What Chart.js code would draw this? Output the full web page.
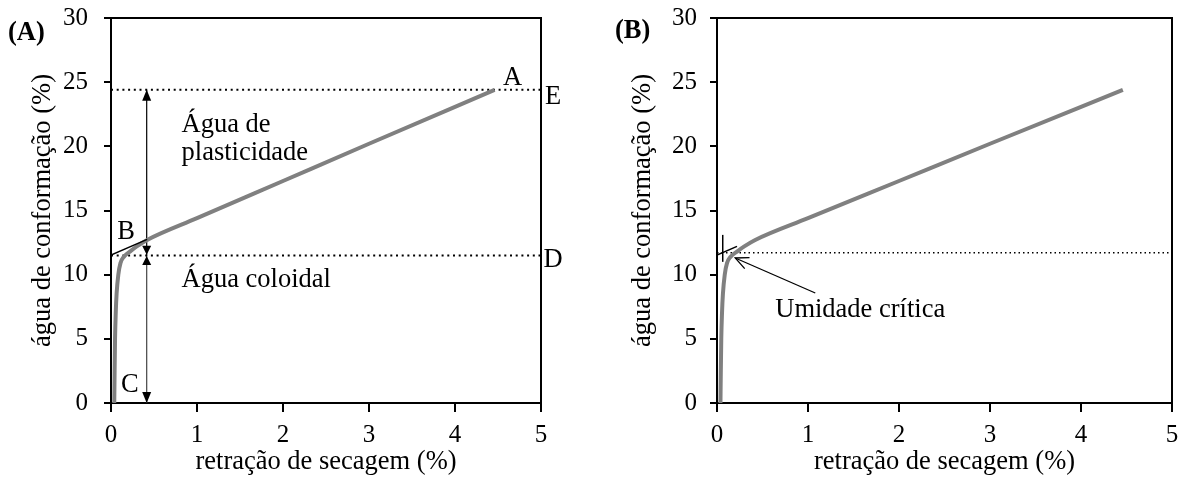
<!DOCTYPE html>
<html>
<head>
<meta charset="utf-8">
<script src="https://cdn.jsdelivr.net/npm/chart.js@4.4.1/dist/chart.umd.min.js"></script>
<style>
html,body{margin:0;padding:0;background:#fff;}
#wrap{position:relative;width:1182px;height:481px;overflow:hidden;}
canvas{position:absolute;top:0;}
</style>
</head>
<body>
<div id="wrap">
<canvas id="cA" width="591" height="481" style="left:0;width:591px;height:481px"></canvas>
<canvas id="cB" width="591" height="481" style="left:591px;width:591px;height:481px"></canvas>
</div>
<script>
// ---- data ----
const shrinkage = [0.038, 0.042, 0.047, 0.055, 0.065, 0.085, 0.11, 0.15, 0.22, 0.3, 0.42, 1.0, 2.0, 3.0, 4.46];
const water     = [0, 2.5, 5, 7, 8.5, 10, 10.9, 11.4, 11.8, 12.2, 12.7, 14.4, 17.3, 20.2, 24.4];
const xTicks = [0, 1, 2, 3, 4, 5];
const yTicks = [0, 5, 10, 15, 20, 25, 30];

// Panel A reference lines
const lineE = {x: [0, 5], y: [24.4, 24.4]};
const lineD = {x: [0, 5], y: [11.5, 11.5]};
const tangentA = {x: [0, 0.42], y: [11.53, 12.75]};
const arrowUpper = {x: [0.415, 0.415], y: [11.5, 24.4]};
const arrowLower = {x: [0.415, 0.415], y: [11.5, 0]};
const labelsA = [
  {t: "Água de", x: 0.82, y: 21.67, align: "left"},
  {t: "plasticidade", x: 0.82, y: 19.49, align: "left"},
  {t: "Água coloidal", x: 0.82, y: 9.59, align: "left"},
  {t: "A", x: 4.67, y: 25.33, align: "center"},
  {t: "E", x: 5.14, y: 23.85, align: "center"},
  {t: "D", x: 5.14, y: 11.15, align: "center"},
  {t: "B", x: 0.174, y: 13.33, align: "center"},
  {t: "C", x: 0.22, y: 1.4, align: "center"}
];

// Panel B reference lines
const lineCrit = {x: [0, 5], y: [11.7, 11.7]};
const tangentB = {x: [0, 0.22], y: [11.53, 12.2]};
const markB = {x: [0.063, 0.063], y: [11.0, 13.1]};
const arrowCrit = {x: [1.08, 0.2], y: [8.57, 11.3]};
const labelsB = [
  {t: "Umidade crítica", x: 0.64, y: 7.25, align: "left"}
];

const FONT = "'Liberation Serif', 'Times New Roman', serif";
const FS = 25;     // tick labels
const FT = 26.5;   // titles & annotations

function pts(o){ return o.x.map((v,i)=>({x:v, y:o.y[i]})); }
function curve(){ return shrinkage.map((v,i)=>({x:v, y:water[i]})); }

function lineDs(o, color, width, dash){
  return {data: pts(o), showLine: true, borderColor: color, borderWidth: width,
          borderDash: dash || [], pointRadius: 0, fill: false, tension: 0, order: 2};
}

const annotPlugin = {
  id: 'annot',
  afterDatasetsDraw(chart, args, opts){
    const ctx = chart.ctx, xs = chart.scales.x, ys = chart.scales.y, a = chart.chartArea;
    ctx.save();
    // frame (top & right edges)
    ctx.strokeStyle = '#000'; ctx.lineWidth = 2;
    ctx.beginPath();
    ctx.moveTo(a.left - 1, a.top); ctx.lineTo(a.right, a.top); ctx.lineTo(a.right, a.bottom);
    ctx.stroke();
    // arrowheads
    (opts.heads || []).forEach(h => {
      const x1 = xs.getPixelForValue(h.from[0]), y1 = ys.getPixelForValue(h.from[1]);
      const x2 = xs.getPixelForValue(h.to[0]), y2 = ys.getPixelForValue(h.to[1]);
      const ang = Math.atan2(y2 - y1, x2 - x1);
      const L = h.len, W = h.w;
      ctx.beginPath();
      ctx.moveTo(x2 - L*Math.cos(ang) + W*Math.sin(ang), y2 - L*Math.sin(ang) - W*Math.cos(ang));
      ctx.lineTo(x2, y2);
      ctx.lineTo(x2 - L*Math.cos(ang) - W*Math.sin(ang), y2 - L*Math.sin(ang) + W*Math.cos(ang));
      if (h.open){ ctx.strokeStyle = '#000'; ctx.lineWidth = 1.3; ctx.stroke(); }
      else { ctx.closePath(); ctx.fillStyle = '#000'; ctx.fill(); }
    });
    // labels
    ctx.fillStyle = '#000';
    ctx.font = FT + 'px ' + FONT;
    ctx.textBaseline = 'middle';
    (opts.labels || []).forEach(l => {
      ctx.textAlign = l.align;
      ctx.fillText(l.t, xs.getPixelForValue(l.x), ys.getPixelForValue(l.y));
    });
    // panel tag
    if (opts.tag){
      ctx.font = 'bold ' + FT + 'px ' + FONT;
      ctx.textAlign = 'left';
      ctx.fillText(opts.tag.t, opts.tag.px, opts.tag.py);
    }
    ctx.restore();
  }
};

function makeOptions(cfg){
  return {
    responsive: false,
    animation: false,
    layout: {padding: {left: 0, right: cfg.padRight, top: 18, bottom: 0}},
    plugins: {
      legend: {display: false},
      tooltip: {enabled: false},
      annot: {labels: cfg.labels, heads: cfg.heads, tag: cfg.tag}
    },
    scales: {
      x: {
        type: 'linear', min: 0, max: 5,
        afterBuildTicks: s => { s.ticks = xTicks.map(v => ({value: v})); },
        afterFit: s => { s.height = 78; s.paddingLeft = 0; s.paddingRight = 0; },
        border: {display: true, color: '#000', width: 2},
        grid: {drawOnChartArea: false, drawTicks: true, tickLength: 9, color: '#000', lineWidth: 2},
        ticks: {color: '#000', padding: 8, font: {family: FONT, size: FS}, maxRotation: 0},
        title: {display: true, text: 'retração de secagem (%)', color: '#000',
                font: {family: FONT, size: FT}, padding: {top: 0, bottom: 3}}
      },
      y: {
        type: 'linear', min: 0, max: 30,
        afterBuildTicks: s => { s.ticks = yTicks.map(v => ({value: v})); },
        afterFit: s => { s.width = cfg.yWidth; s.paddingTop = 0; s.paddingBottom = 0; },
        border: {display: true, color: '#000', width: 2},
        grid: {drawOnChartArea: false, drawTicks: true, tickLength: 7, color: '#000', lineWidth: 2},
        ticks: {color: '#000', padding: cfg.yPad, font: {family: FONT, size: FS}},
        title: {display: true, text: 'água de conformação (%)', color: '#000',
                font: {family: FONT, size: FT}, padding: {top: cfg.yTitlePad, bottom: 0}}
      }
    }
  };
}

const curveDs = () => ({data: curve(), showLine: true, borderColor: '#808080', borderWidth: 4,
  pointRadius: 0, fill: false, tension: 0.3, cubicInterpolationMode: 'monotone', order: 1});

new Chart(document.getElementById('cA'), {
  type: 'scatter',
  data: {datasets: [
    lineDs(lineE, '#000', 2, [2, 3.7]),
    lineDs(lineD, '#000', 2, [2, 3.7]),
    lineDs(arrowUpper, '#000', 1.2),
    lineDs(arrowLower, '#444', 1.2),
    curveDs(),
    Object.assign(lineDs(tangentA, '#000', 1.5), {order: 0})
  ]},
  options: makeOptions({
    padRight: 50, yWidth: 111, yPad: 16, yTitlePad: 27,
    labels: labelsA,
    heads: [
      {from: [0.415, 14], to: [0.415, 24.4], len: 11, w: 4.5},
      {from: [0.415, 14], to: [0.415, 11.55], len: 9, w: 4.5},
      {from: [0.415, 5], to: [0.415, 11.45], len: 9, w: 4.5},
      {from: [0.415, 5], to: [0.415, 0], len: 11, w: 4.5}
    ],
    tag: {t: '(A)', px: 8, py: 33}
  }),
  plugins: [annotPlugin]
});

new Chart(document.getElementById('cB'), {
  type: 'scatter',
  data: {datasets: [
    lineDs(lineCrit, '#000', 1.5, [1.5, 3]),
    curveDs(),
    Object.assign(lineDs(tangentB, '#000', 1.5), {order: 0}),
    Object.assign(lineDs(markB, '#000', 1.5), {order: 0}),
    lineDs(arrowCrit, '#000', 1.3)
  ]},
  options: makeOptions({
    padRight: 10, yWidth: 126, yPad: 13, yTitlePad: 36,
    labels: labelsB,
    heads: [
      {from: [1.08, 8.57], to: [0.2, 11.3], len: 13, w: 6, open: true}
    ],
    tag: {t: '(B)', px: 24, py: 31}
  }),
  plugins: [annotPlugin]
});
</script>
</body>
</html>
